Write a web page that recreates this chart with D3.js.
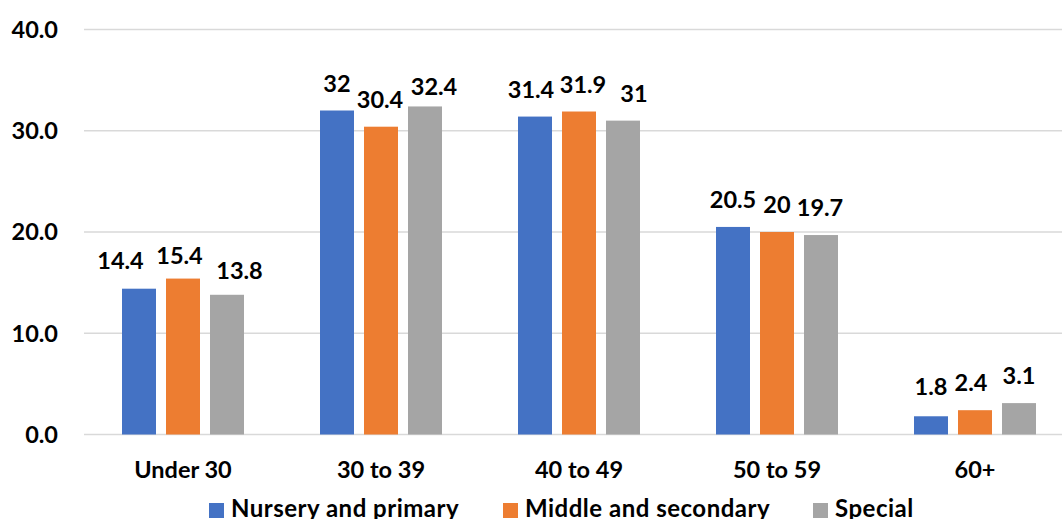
<!DOCTYPE html>
<html>
<head>
<meta charset="utf-8">
<script src="https://cdn.jsdelivr.net/npm/d3@7"></script>
<style>
  html, body { margin: 0; padding: 0; background: #fff; overflow: hidden; }
  svg { display: block; }
  text { font-family: Lato, "Open Sans", sans-serif; font-weight: 700; fill: #000; }
</style>
</head>
<body>
<svg id="chart" width="1062" height="519"></svg>
<script>
// Age groups along the x axis
const categories = ["Under 30", "30 to 39", "40 to 49", "50 to 59", "60+"];
// Series shown side by side in each group
const seriesNames = ["Nursery and primary", "Middle and secondary", "Special"];
const seriesColors = ["#4472C4", "#ED7D31", "#A5A5A5"];
// Percentage of staff in each age group
const nurseryPrimary = [14.4, 32, 31.4, 20.5, 1.8];
const middleSecondary = [15.4, 30.4, 31.9, 20, 2.4];
const special = [13.8, 32.4, 31, 19.7, 3.1];
// Y axis ticks
const yTicks = [0, 10, 20, 30, 40];

const seriesValues = [nurseryPrimary, middleSecondary, special];

// Hand-placed offsets [dx, dy] for value labels that were moved apart
// to keep neighbouring labels from colliding (keyed "category|series index").
const labelNudge = {
  "Under 30|0": [-18.5, -1], "Under 30|1": [-3.5, 4.5], "Under 30|2": [12.5, 3.5],
  "30 to 39|1": [-1, 0], "30 to 39|2": [9, 7.5],
  "40 to 49|0": [-4, 0], "40 to 49|1": [4, 0], "40 to 49|2": [11, 0],
  "50 to 59|2": [-1, 0],
  "60+|0": [0, -2], "60+|1": [-4, 0]
};

const svg = d3.select("#chart");
const W = 1062, H = 519;
const FS = "23.5px";

const x = d3.scaleBand().domain(categories).range([84, 1074]).paddingInner(0).paddingOuter(0);
const xInner = d3.scaleBand().domain(seriesNames).range([0, 122]).paddingInner(10 / 44).paddingOuter(0);
const y = d3.scaleLinear().domain([0, 40]).range([434.5, 29.5]);

// Gridlines
svg.append("g")
  .selectAll("line")
  .data(yTicks)
  .join("line")
  .attr("x1", 84).attr("x2", W)
  .attr("y1", d => y(d)).attr("y2", d => y(d))
  .attr("stroke", "#d9d9d9")
  .attr("stroke-width", 1.5);

// Y tick labels
svg.append("g")
  .selectAll("text")
  .data(yTicks)
  .join("text")
  .attr("x", 58)
  .attr("y", d => y(d))
  .attr("dy", "0.36em")
  .attr("text-anchor", "end")
  .style("font-size", FS)
  .text(d => d.toFixed(1));

// Bars and value labels
const groups = svg.append("g")
  .selectAll("g")
  .data(categories)
  .join("g")
  .attr("transform", c => `translate(${x(c) + (x.bandwidth() - 122) / 2},0)`);

const cells = (c, i) => seriesNames.map((s, k) => ({ c, s, k, v: seriesValues[k][i] }));
const nudge = d => labelNudge[`${d.c}|${d.k}`] || [0, 0];

groups.selectAll("rect")
  .data(cells)
  .join("rect")
  .attr("x", d => xInner(d.s))
  .attr("width", xInner.bandwidth())
  .attr("y", d => y(d.v))
  .attr("height", d => y(0) - y(d.v))
  .attr("fill", d => seriesColors[d.k]);

groups.selectAll("text")
  .data(cells)
  .join("text")
  .attr("x", d => xInner(d.s) + xInner.bandwidth() / 2 + nudge(d)[0])
  .attr("y", d => y(d.v) - 19 + nudge(d)[1])
  .attr("text-anchor", "middle")
  .style("font-size", FS)
  .text(d => String(d.v));

// Category labels
svg.append("g")
  .selectAll("text")
  .data(categories)
  .join("text")
  .attr("x", c => x(c) + x.bandwidth() / 2)
  .attr("y", 478)
  .attr("text-anchor", "middle")
  .style("font-size", FS)
  .text(c => c);

// Legend
const legendX = [209, 503, 813];
const legend = svg.append("g")
  .selectAll("g")
  .data(seriesNames)
  .join("g")
  .attr("transform", (s, k) => `translate(${legendX[k]},0)`);
legend.append("rect")
  .attr("x", 0).attr("y", 503)
  .attr("width", 15).attr("height", 15)
  .attr("fill", (s, k) => seriesColors[k]);
legend.append("text")
  .attr("x", 22).attr("y", 517)
  .style("font-size", "24px")
  .style("letter-spacing", "0.5px")
  .text(s => s);
</script>
</body>
</html>
